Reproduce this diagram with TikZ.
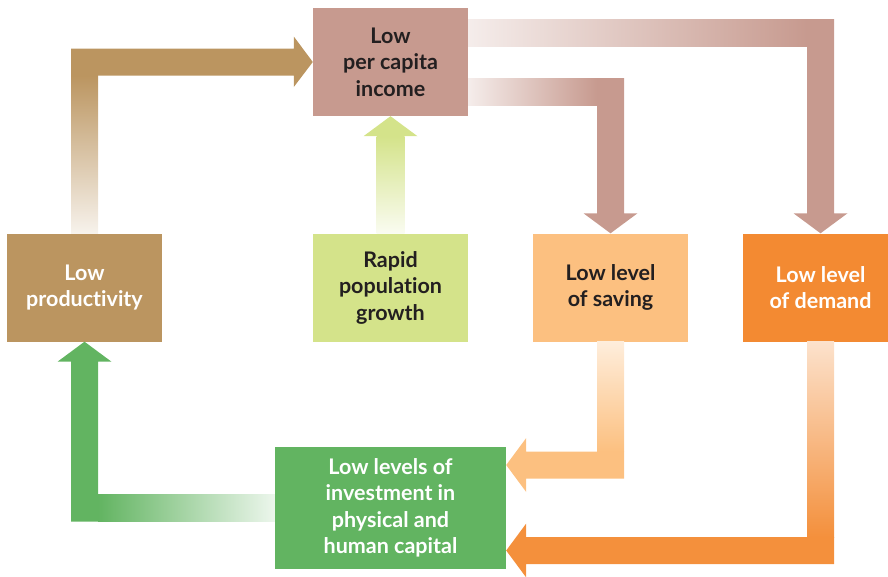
\documentclass[tikz,border=0pt]{standalone}
\usepackage{fontspec}
\setmainfont{Lato}[Ligatures=NoCommon]
\usetikzlibrary{calc}
\definecolor{incC}{HTML}{C79A8F}
\definecolor{prodC}{HTML}{BB9560}
\definecolor{rapC}{HTML}{D4E38A}
\definecolor{savC}{HTML}{FCC080}
\definecolor{demC}{HTML}{F38A32}
\definecolor{grnC}{HTML}{62B461}
\definecolor{ink}{HTML}{231F20}
\begin{document}
\begin{tikzpicture}[x=1pt,y=-1pt,
  box/.style={rectangle, inner sep=0pt, minimum width=155pt, minimum height=108pt,
    align=center, font=\fontsize{21.5}{26.5}\selectfont\bfseries, text=ink},
  wbox/.style={box, text=white}]
\useasboundingbox (0,0) rectangle (888,576);
% boxes
\node[box, fill=incC] (inc) at (390.5,62) {Low\\per capita\\income};
\node[wbox, fill=prodC] (prod) at (84.5,287.5) {Low\\productivity};
\node[box, fill=rapC] (rap) at (390.5,287.5) {Rapid\\population\\growth};
\node[box, fill=savC] (sav) at (610.5,287.5) {Low level\\of saving};
\node[wbox, fill=demC] (dem) at (820.5,287.5) {Low level\\of demand};
\node[wbox, fill=grnC, minimum width=231pt, minimum height=122pt] (inv) at (390.5,508)
  {Low levels of\\investment in\\physical and\\human capital};
% helper coordinates
\coordinate (a1) at ($(inc.east)+(0,-29.5)$);
\coordinate (a2) at ($(inc.east)+(0,29.5)$);
\coordinate (t1) at ($(inv.east)+(0,-43)$);
\coordinate (t2) at ($(inv.east)+(0,42.5)$);
% income -> demand
\path[left color=incC!18, right color=incC] ($(a1)+(0,-13.5)$) rectangle ($(dem.north |- a1)+(-13.5,13.5)$);
\fill[incC] ($(dem.north |- a1)+(-13.5,-13.5)$) -- ++(27,0) -- ($(dem.north)+(13.5,-20)$)
  -- ++(13.5,0) -- (dem.north) -- ++(-27,-20) -- ++(13.5,0) -- cycle;
% income -> saving
\path[left color=incC!18, right color=incC] ($(a2)+(0,-13.5)$) rectangle ($(sav.north |- a2)+(-13.5,13.5)$);
\fill[incC] ($(sav.north |- a2)+(-13.5,-13.5)$) -- ++(27,0) -- ($(sav.north)+(13.5,-20)$)
  -- ++(13.5,0) -- (sav.north) -- ++(-27,-20) -- ++(13.5,0) -- cycle;
% productivity -> income
\path[top color=prodC, bottom color=prodC!12] ($(prod.north)+(-13.5,0)$) rectangle ($(prod.north |- inc.west)+(13.5,13.5)$);
\fill[prodC] ($(prod.north |- inc.west)+(-13.5,-13.5)$) -- ($(inc.west)+(-19,-13.5)$) -- ++(0,-12)
  -- (inc.west) -- ($(inc.west)+(-19,25)$) -- ++(0,-11.5) -- ($(prod.north |- inc.west)+(-13.5,13.5)$) -- cycle;
% population -> income
\path[top color=rapC, bottom color=rapC!12] ($(rap.north)+(-14,0)$) rectangle ($(inc.south)+(14,20)$);
\fill[rapC] ($(inc.south)+(-27,20)$) -- (inc.south) -- ($(inc.south)+(27,20)$) -- cycle;
% saving -> investment
\path[top color=savC!28, bottom color=savC] ($(sav.south)+(-13.5,0)$) rectangle ($(sav.south |- t1)+(13.5,-13.5)$);
\fill[savC] ($(sav.south |- t1)+(-13.5,-13.5)$) -- ++(27,0) -- ++(0,27) -- ($(t1)+(20,13.5)$)
  -- ++(0,13.5) -- (t1) -- ($(t1)+(20,-27)$) -- ++(0,13.5) -- cycle;
% demand -> investment
\path[top color=demC!25, bottom color=demC!95] ($(dem.south)+(-13.5,0)$) rectangle ($(dem.south |- t2)+(13.5,-13.5)$);
\fill[demC!95] ($(dem.south |- t2)+(-13.5,-13.5)$) -- ++(27,0) -- ++(0,27) -- ($(t2)+(20,13.5)$)
  -- ++(0,13.5) -- (t2) -- ($(t2)+(20,-27)$) -- ++(0,13.5) -- cycle;
% investment -> productivity
\path[left color=grnC, right color=grnC!12] ($(inv.west)+(0,-13.5)$) rectangle ($(prod.south |- inv.west)+(13.5,13.5)$);
\fill[grnC] ($(prod.south |- inv.west)+(-13.5,13.5)$) -- ++(27,0) -- ($(prod.south)+(13.5,20)$)
  -- ++(13.5,0) -- (prod.south) -- ++(-27,20) -- ++(13.5,0) -- cycle;
\end{tikzpicture}
\end{document}
